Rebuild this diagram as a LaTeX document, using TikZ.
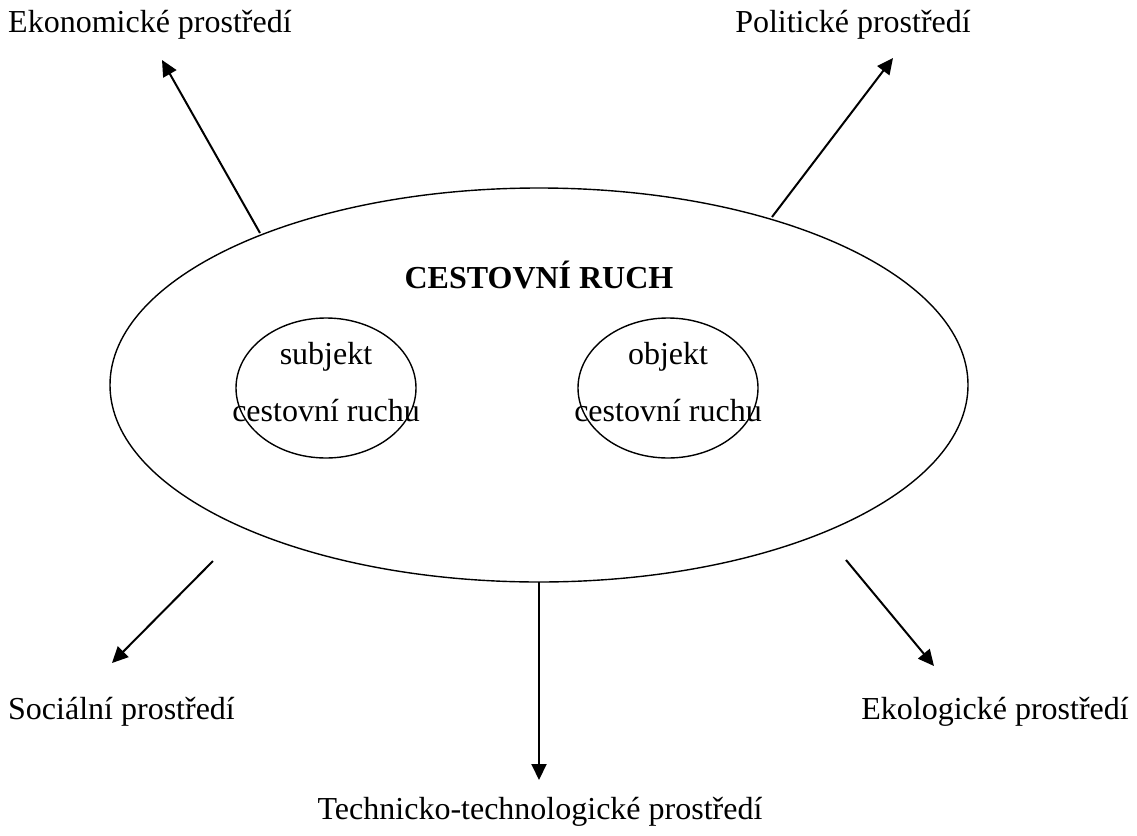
\documentclass[tikz,border=0pt]{standalone}
\usepackage{fontspec}
\setmainfont{Liberation Serif}
\usetikzlibrary{arrows.meta}
\begin{document}
\begin{tikzpicture}[x=1pt,y=-1pt,
  lbl/.style={font=\fontsize{32}{38}\selectfont, inner sep=0pt},
  arr/.style={line width=2pt, -{Triangle[length=16pt,width=15pt]}},
  shapeline/.style={line width=1.4pt}]
\useasboundingbox (0,0) rectangle (1137,835);
\draw[shapeline] (539,385) ellipse [x radius=429, y radius=197];
\draw[shapeline] (326,388) ellipse [x radius=90, y radius=70];
\draw[shapeline] (668,388) ellipse [x radius=90, y radius=70];
\node[lbl, font=\fontsize{32}{38}\selectfont\bfseries] (cr) at (539,275) {CESTOVNÍ RUCH};
\node[lbl] (s1) at (326,357) {subjekt};
\node[lbl] (s2) at (326,411) {cestovní ruchu};
\node[lbl] (o1) at (668,357) {objekt};
\node[lbl] (o2) at (668,411) {cestovní ruchu};
\coordinate (a1) at (260,233);
\coordinate (a2) at (772,217);
\coordinate (a3) at (213,561);
\coordinate (a4) at (539,582);
\coordinate (a5) at (846,560);
\coordinate (b1) at (162,60);
\coordinate (b2) at (893,58);
\coordinate (b3) at (112,663);
\coordinate (b4) at (539,780);
\coordinate (b5) at (934,666);
\draw[arr] (a1) -- (b1);
\draw[arr] (a2) -- (b2);
\draw[arr] (a3) -- (b3);
\draw[arr] (a4) -- (b4);
\draw[arr] (a5) -- (b5);
\node[lbl, anchor=west] (ek) at (8,25) {Ekonomické prostředí};
\node[lbl] (po) at (853,25) {Politické prostředí};
\node[lbl, anchor=west] (so) at (8,712) {Sociální prostředí};
\node[lbl, anchor=east] (el) at (1129,712) {Ekologické prostředí};
\node[lbl] (te) at (540,812) {Technicko-technologické prostředí};
\end{tikzpicture}
\end{document}
